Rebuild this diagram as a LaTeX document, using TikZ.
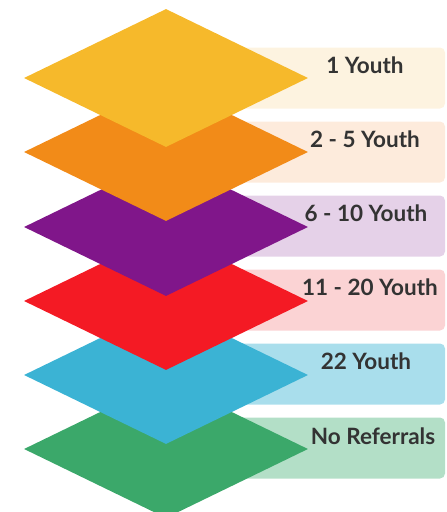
\documentclass[tikz,border=0pt]{standalone}
\usepackage{fontspec}
\setmainfont{Lato}
\usetikzlibrary{positioning,shapes.geometric}

\definecolor{cyellow}{HTML}{F6B92B}
\definecolor{corange}{HTML}{F28B18}
\definecolor{cpurple}{HTML}{80168A}
\definecolor{cred}{HTML}{F41A24}
\definecolor{cblue}{HTML}{3BB3D4}
\definecolor{cgreen}{HTML}{3BA86A}
\definecolor{byellow}{HTML}{FDF3E0}
\definecolor{borange}{HTML}{FDEBDC}
\definecolor{bpurple}{HTML}{E5D1E8}
\definecolor{bred}{HTML}{FBD3D4}
\definecolor{bblue}{HTML}{A9DEEC}
\definecolor{bgreen}{HTML}{B3DFC7}
\definecolor{txt}{HTML}{333333}

\tikzset{
  layer/.style={diamond, fill=#1, draw=none, inner sep=0pt, minimum width=284pt, minimum height=138pt},
  band/.style={rectangle, fill=#1, rounded corners=5pt, inner sep=0pt, minimum width=279pt, minimum height=61pt},
  tag/.style={text=txt, font=\bfseries\fontsize{22.5}{26}\selectfont, inner sep=0pt}
}

\begin{document}
\begin{tikzpicture}[x=1pt, y=-1pt]
  \useasboundingbox (0,0) rectangle (447,512);
  \clip (0,0) rectangle (447,512);

  % lowest layer first
  \node (B6) [band=bgreen] at (305.5,448) {};
  \node (D6) [layer=cgreen] at (166,449) {};
  \node (T6) [tag] at (373,436) {No Referrals};

  \node (B5) [band=bblue] at (305.5,374) {};
  \node (D5) [layer=cblue] at (166,375) {};
  \node (T5) [tag] at (366,361) {22 Youth};

  \node (B4) [band=bred] at (305.5,300) {};
  \node (D4) [layer=cred] at (166,301) {};
  \node (T4) [tag] at (370,287) {11 - 20 Youth};

  \node (B3) [band=bpurple] at (305.5,226) {};
  \node (D3) [layer=cpurple] at (166,227) {};
  \node (T3) [tag] at (366,213) {6 - 10 Youth};

  \node (B2) [band=borange] at (305.5,152) {};
  \node (D2) [layer=corange] at (166,152) {};
  \node (T2) [tag] at (365,139) {2 - 5 Youth};

  \node (B1) [band=byellow] at (305.5,78) {};
  \node (D1) [layer=cyellow] at (166,78) {};
  \node (T1) [tag] at (365,65) {1 Youth};
\end{tikzpicture}
\end{document}
